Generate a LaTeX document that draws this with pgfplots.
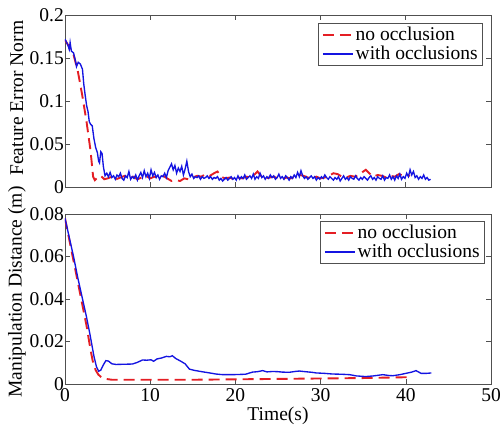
\documentclass[border=0pt]{standalone}
\usepackage{fontspec}
\setmainfont{Liberation Serif}
\usepackage{pgfplots}
\pgfplotsset{compat=1.18}
\definecolor{noocc}{RGB}{228,30,36}
\definecolor{withocc}{RGB}{20,20,225}
\definecolor{axgray}{RGB}{80,80,80}
\newcommand\fs{\fontsize{19.5}{22}\selectfont}
\pgfplotsset{
  occ panel/.style={
    scale only axis,
    width=426pt,
    xmin=0, xmax=50,
    xtick={0,10,...,50},
    axis line style={axgray, line width=0.8pt},
    tick style={axgray, line width=0.6pt},
    major tick length=5pt,
    tick align=inside,
    scaled y ticks=false,
    yticklabel style={/pgf/number format/fixed, /pgf/number format/precision=2, inner xsep=1pt},
    /pgf/number format/assume math mode=true,
    tick label style={font=\fs},
    label style={font=\fs},
    legend style={font=\fs, draw=axgray, line width=0.8pt, fill=white,
      anchor=north east, inner xsep=3pt, inner ysep=2pt, cells={anchor=west}},
    legend image code/.code={\draw[##1] (0pt,0pt) -- (30pt,0pt);},
  },
  noline/.style={noocc, line width=1.9pt, dash pattern=on 11pt off 6pt},
  wline/.style={withocc, line width=1.35pt},
}
\begin{document}
\begin{tikzpicture}
\begin{axis}[
  occ panel,
  name=top,
  height=172pt,
  ymin=0, ymax=0.2,
  ytick={0,0.05,0.1,0.15,0.2},
  xticklabels={},
  ylabel={Feature Error Norm},
  ylabel style={at={(axis description cs:-0.113,0.517)}, anchor=center},
  legend style={at={(rel axis cs:1,1)}, xshift=-8pt, yshift=-8pt},
]
\addplot[noline] coordinates {
(0,0.171) (0.5,0.163) (1.0,0.154) (1.5,0.135) (2.0,0.108) (2.5,0.078) (3.0,0.042)
(3.3,0.012) (3.5,0.008) (3.8,0.011) (4.2,0.013) (4.6,0.009) (5.0,0.010) (5.5,0.012)
(6.0,0.009) (6.5,0.011) (7.0,0.013) (7.5,0.010) (8.0,0.012) (8.5,0.009) (9.0,0.011)
(9.5,0.013) (10.0,0.010) (10.5,0.012) (11.0,0.011) (11.5,0.013) (12.0,0.010) (12.5,0.007)
(13.0,0.008) (13.5,0.007) (14.0,0.010) (14.5,0.009) (15.0,0.011) (15.5,0.013) (16.0,0.012)
(16.5,0.015) (17.0,0.013) (17.5,0.016) (17.9,0.018) (18.3,0.012) (18.8,0.010) (19.3,0.011)
(19.8,0.009) (20.3,0.011) (20.8,0.010) (21.3,0.012) (21.8,0.011) (22.3,0.015) (22.6,0.018)
(23.0,0.013) (23.5,0.010) (24.0,0.011) (24.5,0.012) (25.0,0.010) (25.5,0.009) (26.0,0.011)
(26.5,0.010) (27.0,0.012) (27.5,0.014) (28.0,0.013) (28.5,0.011) (29.0,0.010) (29.5,0.012)
(30.0,0.010) (30.5,0.011) (31.0,0.013) (31.5,0.016) (32.0,0.015) (32.5,0.012) (33.0,0.011)
(33.5,0.013) (34.0,0.012) (34.5,0.014) (35.0,0.018) (35.3,0.020) (35.7,0.016) (36.2,0.012)
(36.7,0.014) (37.2,0.013) (37.7,0.011) (38.2,0.013) (38.7,0.012) (39.2,0.015) (39.7,0.013)
(40.2,0.014) (40.5,0.013)
};
\addlegendentry{no occlusion}
\addplot[wline] coordinates {
(0,0.172) (0.3,0.166) (0.5,0.160) (0.6,0.168) (0.75,0.158) (1.0,0.156) (1.2,0.148)
(1.35,0.140) (1.55,0.145) (1.8,0.143) (2.05,0.137) (2.2,0.120) (2.35,0.108) (2.55,0.094)
(2.7,0.088) (2.85,0.076) (3.0,0.073) (3.2,0.071) (3.4,0.056) (3.6,0.046) (3.8,0.040)
(3.95,0.030) (4.05,0.028) (4.2,0.041) (4.35,0.039) (4.5,0.024) (4.7,0.013)
(4.9,0.016) (5.1,0.012) (5.3,0.017) (5.5,0.011) (5.7,0.013) (5.9,0.009) (6.1,0.014)
(6.3,0.012) (6.5,0.016) (6.7,0.010) (6.9,0.008) (7.1,0.013) (7.3,0.011) (7.5,0.018)
(7.7,0.009) (7.9,0.012) (8.1,0.010) (8.3,0.014) (8.5,0.008) (8.7,0.013) (8.9,0.017)
(9.1,0.011) (9.3,0.019) (9.5,0.012) (9.7,0.016) (9.9,0.010) (10.1,0.020) (10.3,0.013)
(10.5,0.017) (10.7,0.011) (10.9,0.014) (11.1,0.009) (11.3,0.013) (11.5,0.012) (11.7,0.016)
(11.9,0.011) (12.1,0.019) (12.3,0.023) (12.5,0.027) (12.7,0.020) (12.9,0.025) (13.1,0.016)
(13.3,0.022) (13.5,0.018) (13.7,0.024) (13.9,0.014) (14.1,0.021) (14.3,0.030) (14.5,0.018)
(14.7,0.012) (14.9,0.015) (15.1,0.010) (15.3,0.012) (15.5,0.011) (15.7,0.013) (15.9,0.009)
(16.1,0.012) (16.3,0.010) (16.5,0.011) (16.7,0.013) (16.9,0.010) (17.1,0.012) (17.3,0.009)
(17.5,0.011) (17.7,0.010) (17.9,0.012) (18.1,0.008) (18.3,0.010) (18.5,0.007) (18.7,0.009)
(18.9,0.011) (19.1,0.008) (19.3,0.010) (19.5,0.012) (19.7,0.009) (19.9,0.011) (20.1,0.008)
(20.3,0.013) (20.5,0.009) (20.7,0.012) (20.9,0.010) (21.1,0.014) (21.3,0.009) (21.5,0.011)
(21.7,0.013) (21.9,0.010) (22.1,0.015) (22.3,0.009) (22.5,0.012) (22.7,0.010) (22.9,0.016)
(23.1,0.011) (23.3,0.013) (23.5,0.009) (23.7,0.012) (23.9,0.010) (24.1,0.014) (24.3,0.011)
(24.5,0.013) (24.7,0.009) (24.9,0.011) (25.1,0.015) (25.3,0.010) (25.5,0.012) (25.7,0.009)
(25.9,0.013) (26.1,0.011) (26.3,0.008) (26.5,0.012) (26.7,0.010) (26.9,0.014) (27.1,0.011)
(27.3,0.017) (27.5,0.012) (27.7,0.019) (27.9,0.013) (28.1,0.010) (28.3,0.012) (28.5,0.009)
(28.7,0.011) (28.9,0.013) (29.1,0.010) (29.3,0.012) (29.5,0.008) (29.7,0.011) (29.9,0.009)
(30.1,0.012) (30.3,0.010) (30.5,0.014) (30.7,0.011) (30.9,0.009) (31.1,0.012) (31.3,0.010)
(31.5,0.008) (31.7,0.011) (31.9,0.009) (32.1,0.012) (32.3,0.007) (32.5,0.010) (32.7,0.013)
(32.9,0.009) (33.1,0.011) (33.3,0.008) (33.5,0.012) (33.7,0.010) (33.9,0.009) (34.1,0.013)
(34.3,0.010) (34.5,0.008) (34.7,0.011) (34.9,0.009) (35.1,0.012) (35.3,0.010) (35.5,0.008)
(35.7,0.011) (35.9,0.013) (36.1,0.009) (36.3,0.011) (36.5,0.008) (36.7,0.012) (36.9,0.010)
(37.1,0.009) (37.3,0.013) (37.5,0.008) (37.7,0.011) (37.9,0.010) (38.1,0.014) (38.3,0.009)
(38.5,0.012) (38.7,0.008) (38.9,0.013) (39.1,0.010) (39.3,0.015) (39.5,0.009) (39.7,0.012)
(39.9,0.010) (40.1,0.016) (40.3,0.012) (40.5,0.020) (40.7,0.014) (40.9,0.018) (41.1,0.011)
(41.3,0.013) (41.5,0.009) (41.7,0.012) (41.9,0.010) (42.1,0.014) (42.3,0.009) (42.5,0.011)
(42.7,0.008) (42.9,0.009)
};
\addlegendentry{with occlusions}
\end{axis}
\begin{axis}[
  occ panel,
  at={(top.south west)}, anchor=north west, yshift=-27pt,
  height=170pt,
  ymin=0, ymax=0.08,
  ytick={0,0.02,0.04,0.06,0.08},
  xlabel={Time(s)},
  xlabel style={at={(axis description cs:0.5,0)}, anchor=center, yshift=-32pt},
  xticklabel style={yshift=-1pt},
  ylabel={Manipulation Distance (m)},
  ylabel style={at={(axis description cs:-0.113,0.541)}, anchor=center},
  legend style={at={(rel axis cs:1,1)}, xshift=-6pt, yshift=-7pt},
]
\addplot[noline] coordinates {
(0,0.078) (0.5,0.068) (1.0,0.058) (1.5,0.048) (2.0,0.038) (2.5,0.028) (3.0,0.016)
(3.3,0.010) (3.6,0.0065) (3.9,0.0045) (4.3,0.003) (4.8,0.0024) (5.5,0.002) (10,0.002)
(15,0.002) (20,0.0022) (25,0.0024) (30,0.0026) (35,0.0028) (40.2,0.0032)
};
\addlegendentry{no occlusion}
\addplot[wline] coordinates {
(0,0.078) (0.5,0.069) (1.0,0.060) (1.5,0.050) (2.0,0.041) (2.5,0.032) (2.9,0.024)
(3.4,0.013) (3.7,0.008) (3.95,0.006) (4.2,0.0065) (4.5,0.009) (4.8,0.011) (5.1,0.0108)
(5.5,0.0095) (6,0.0092) (7,0.0093) (7.9,0.0094) (8.5,0.0102) (9.1,0.0113) (9.6,0.0112)
(10.1,0.0114) (10.4,0.0107) (10.8,0.0118) (11.3,0.0122) (11.9,0.013) (12.3,0.0128)
(12.6,0.0133) (13.0,0.012) (13.6,0.0107) (14.1,0.0095) (14.6,0.007) (15.2,0.0064)
(16.2,0.0057) (17.0,0.0052) (17.7,0.0047) (18.5,0.0044) (19.7,0.0044) (20.5,0.0045)
(21.2,0.0046) (22,0.0056) (22.6,0.0058) (23.2,0.0063) (23.7,0.0057) (24.4,0.0059)
(25.0,0.0058) (25.5,0.0056) (26.3,0.0055) (27.0,0.0059) (27.5,0.0061) (28.2,0.0058)
(29,0.0055) (29.5,0.0052) (30.5,0.005) (31.4,0.0047) (32.4,0.0046) (33.4,0.0044)
(34.2,0.0038) (35.3,0.0035) (36.2,0.0038) (37.3,0.0044) (38.0,0.004) (38.5,0.0039)
(39.3,0.0044) (40.0,0.005) (40.7,0.0056) (41.2,0.0063) (41.8,0.005) (42.4,0.005)
(43.0,0.0052)
};
\addlegendentry{with occlusions}
\end{axis}
\pgfresetboundingbox
\useasboundingbox (-65pt,-245pt) rectangle (438pt,187pt);
\end{tikzpicture}
\end{document}
